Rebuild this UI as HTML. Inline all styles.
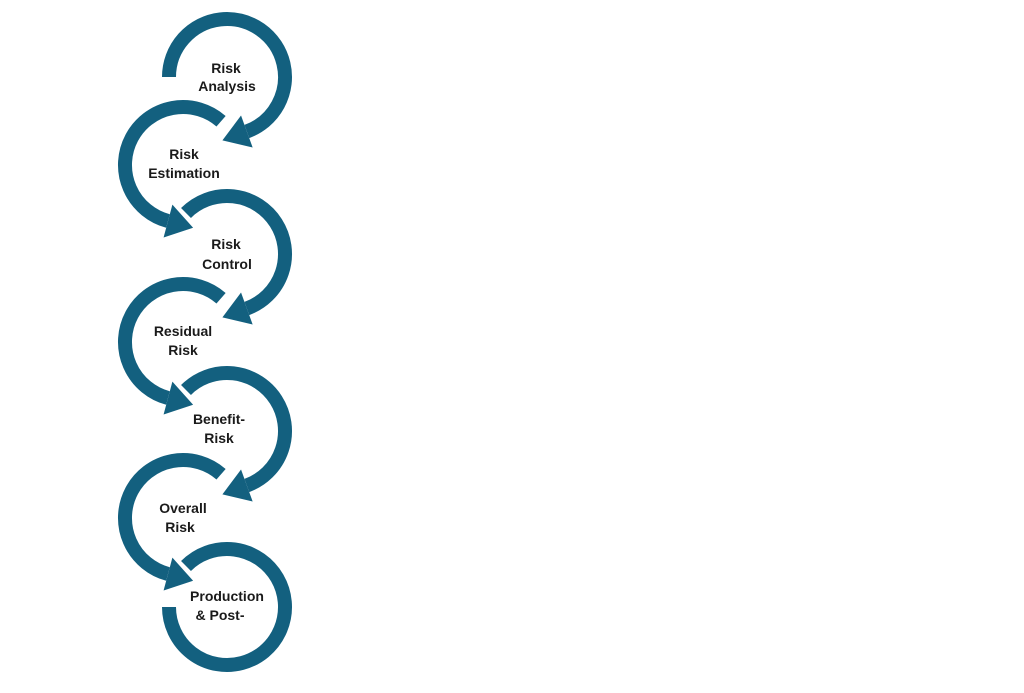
<!DOCTYPE html>
<html><head><meta charset="utf-8"><style>
html,body{margin:0;padding:0;background:#fff;}
svg{display:block}
text{font-family:"Liberation Sans",sans-serif;font-weight:bold;font-size:14px;fill:#1a1a1a;text-anchor:middle}
</style></head><body>
<svg width="1024" height="693" viewBox="0 0 1024 693">
<defs>
<g id="A"><path d="M-58 0 A58 58 0 1 1 19.84 54.5" fill="none" stroke="#13607f" stroke-width="14"/><polygon points="25.65,70.48 14.03,38.52 -4.6,63.4" fill="#13607f"/></g>
<g id="B"><path d="M-41.01 -41.01 A58 58 0 1 1 19.84 54.5" fill="none" stroke="#13607f" stroke-width="14"/><polygon points="25.65,70.48 14.03,38.52 -4.6,63.4" fill="#13607f"/></g>
<g id="C"><path d="M-41.01 -41.01 A58 58 0 1 1 -58 0" fill="none" stroke="#13607f" stroke-width="14"/></g>
<g id="L"><path d="M38.05 -43.77 A58 58 0 1 0 -15.01 56.02" fill="none" stroke="#13607f" stroke-width="14"/><polygon points="-19.41,72.44 -10.61,39.6 10.1,62.75" fill="#13607f"/></g>
</defs>
<use href="#A" x="227" y="77"/>
<use href="#L" x="183" y="165"/>
<use href="#B" x="227" y="254"/>
<use href="#L" x="183" y="342"/>
<use href="#B" x="227" y="431"/>
<use href="#L" x="183" y="518"/>
<use href="#C" x="227" y="607"/>
<text x="226" y="73">Risk</text><text x="227" y="91">Analysis</text>
<text x="184" y="159">Risk</text><text x="184" y="178">Estimation</text>
<text x="226" y="249">Risk</text><text x="227" y="269">Control</text>
<text x="183" y="336">Residual</text><text x="183" y="355">Risk</text>
<text x="219" y="424">Benefit-</text><text x="219" y="443">Risk</text>
<text x="183" y="513">Overall</text><text x="180" y="532">Risk</text>
<text x="227" y="601">Production</text><text x="220" y="620">&amp; Post-</text>
</svg>
</body></html>
